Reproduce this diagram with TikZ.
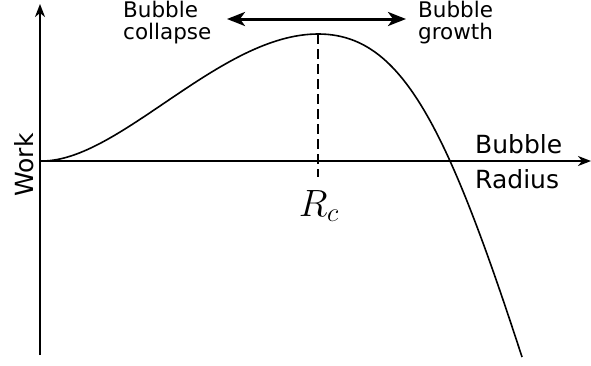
\RequirePackage{fix-cm}
\documentclass[tikz,border=0pt]{standalone}
\usepackage{fontspec}
\setmainfont{DejaVu Sans}
\usetikzlibrary{arrows.meta}
\begin{document}
\begin{tikzpicture}[x=1pt,y=-1pt,
  axis/.style={line width=2pt,-{Stealth[length=13pt,width=10pt,inset=4pt]}},
  curvestyle/.style={line width=1.6pt},
  label/.style={font=\fontsize{21.5}{21.5}\selectfont,align=left,inner sep=0pt},
  biglabel/.style={font=\fontsize{25}{25}\selectfont,inner sep=0pt}]
\useasboundingbox (0,0) rectangle (591,365);
\coordinate (O) at (40,161);
\coordinate (ytop) at (40,4);
\coordinate (ybot) at (40,355);
\coordinate (xend) at (591,161);
\coordinate (start) at (42,161);
\coordinate (peak) at (318,34);
\coordinate (finish) at (522,357);
\coordinate (dashend) at (318,177);
\coordinate (al) at (227,19);
\coordinate (ar) at (406,19);
\draw[axis] (ybot) -- (ytop);
\draw[axis] (O) -- (xend);
\draw[curvestyle] (start) .. controls (120,161) and (220,34) .. (peak)
  .. controls (400,34) and (445,120) .. (finish);
\draw[line width=2pt,dash pattern=on 10pt off 5pt] (peak) -- (dashend);
\draw[line width=3pt,{Stealth[length=18pt,width=14pt,inset=5pt]}-{Stealth[length=18pt,width=14pt,inset=5pt]}] (al) -- (ar);
\node[label,anchor=north west] (col) at (123,1) {Bubble\\collapse};
\node[label,anchor=north west] (gro) at (418,1) {Bubble\\growth};
\node[biglabel,anchor=base west] (bb) at (475,153) {Bubble};
\node[biglabel,anchor=base west] (rad) at (475,188) {Radius};
\node[biglabel,rotate=90,anchor=base] (work) at (33,165) {Work};
\node[inner sep=0pt,anchor=base,scale=1.9] (rc) at (319,216) {\fontsize{20}{20}\selectfont $R_c$};
\end{tikzpicture}
\end{document}
